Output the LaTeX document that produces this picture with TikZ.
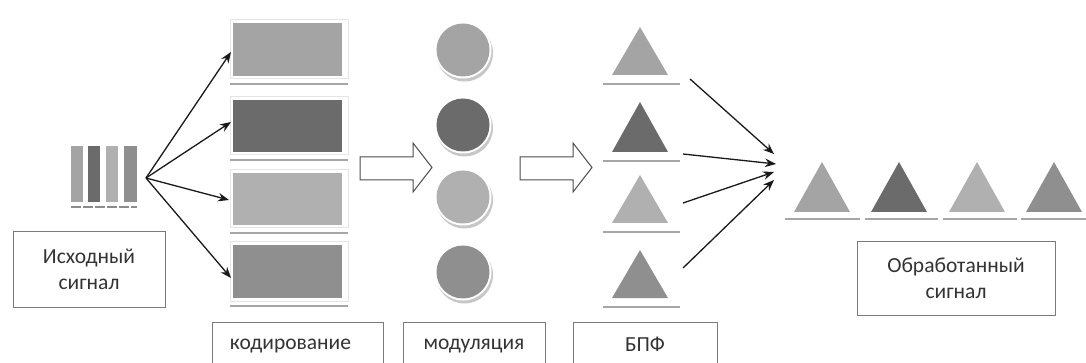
\documentclass[tikz,border=0pt]{standalone}
\usepackage{fontspec}
\setmainfont{Carlito}
\usetikzlibrary{arrows.meta}
\definecolor{cA}{HTML}{A4A4A4}
\definecolor{cB}{HTML}{6B6B6B}
\definecolor{cC}{HTML}{B0B0B0}
\definecolor{cD}{HTML}{8F8F8F}
\definecolor{bar}{HTML}{A6A6A6}
\definecolor{edge}{HTML}{7A7A7A}
\definecolor{txt}{HTML}{333333}
\begin{document}
\begin{tikzpicture}[x=1pt,y=-1pt,
  lbl/.style={draw=edge,line width=1pt,fill=white,text=txt,align=center,
    font=\fontsize{21.5}{26}\selectfont,inner sep=0pt},
  tfont/.style={text=txt,font=\fontsize{21.5}{26}\selectfont},
  conn/.style={line width=1.3pt,draw=black!90,-{Stealth[length=11pt,width=8.5pt]}},
  hollow/.style={draw=black!70,line width=1pt,fill=white,line join=miter},
  bbar/.style={draw=bar,line width=2.6pt}]
\useasboundingbox (0,0) rectangle (1086,363);
\clip (0,0) rectangle (1086,363);
% --- source signal
\fill[cA] (71,146) rectangle (83,202);
\fill[cB] (88,146) rectangle (100,202);
\fill[cC] (106,146) rectangle (118,202);
\fill[cD] (124,146) rectangle (137,202);
\draw[draw=black!45,line width=1.4pt,dash pattern=on 10pt off 2pt] (71,207) -- (137,207);
\coordinate (sig) at (146,178);
\node[lbl,minimum width=152pt,minimum height=75pt] (src) at (89,269.5) {Исходный\\сигнал};
% --- coding rectangles
\foreach \i/\c/\t/\b in {1/cA/23/76,2/cB/100/152,3/cC/173/225,4/cD/245/298}{
  \draw[draw=black!10,line width=1pt] (230,\t-3) rectangle (348,\b+3);
  \node[fill=\c,minimum width=109pt,minimum height=\b pt-\t pt,inner sep=0pt] (r\i) at (287.5,{(\t+\b)/2}) {};
  \draw[bbar] (230,\b+8) -- (348,\b+8);
}
\coordinate (e1) at (231,52);
\coordinate (e2) at (231,122);
\coordinate (e3) at (229,200);
\coordinate (e4) at (231,278);
\foreach \i in {1,...,4}{\draw[conn] (sig) -- (e\i);}
\node[lbl,minimum width=171pt,minimum height=70pt] (cod) at (297.5,357) {};
\node[tfont] at (290.5,346) {кодирование};
% --- hollow arrow 1
\draw[hollow] (360,157) -- (413,157) -- (413,143) -- (432,167.5) -- (413,192) -- (413,180) -- (360,180) -- cycle;
% --- modulation circles
\foreach \i/\c/\y in {1/cA/50,2/cB/125,3/cC/197,4/cD/272}{
  \fill[black!22] (464.5,\y+3) circle (28.5pt);
  \fill[white] (463,\y) circle (28.5pt);
  \node[circle,fill=\c,minimum size=53pt,inner sep=0pt] (m\i) at (463,\y) {};
}
\node[lbl,minimum width=142pt,minimum height=70pt] (mod) at (474,357) {};
\node[tfont] at (474,346) {модуляция};
% --- hollow arrow 2
\draw[hollow] (520,157) -- (573,157) -- (573,143) -- (592,167.5) -- (573,192) -- (573,180) -- (520,180) -- cycle;
% --- FFT triangles
\foreach \i/\c/\t/\b in {1/cA/27/75,2/cB/102/152,3/cC/175/223,4/cD/250/298}{
  \fill[\c] (640,\t) -- (668,\b) -- (612,\b) -- cycle;
  \draw[bbar] (603,\b+9) -- (680,\b+9);
}
\node[lbl,minimum width=144pt,minimum height=70pt] (fft) at (645,357) {};
\node[tfont] at (645,344) {БПФ};
\coordinate (s1) at (690,79);
\coordinate (s2) at (683,154);
\coordinate (s3) at (683,203);
\coordinate (s4) at (683,268);
\coordinate (t1) at (774,154);
\coordinate (t2) at (776,164);
\coordinate (t3) at (774,172);
\coordinate (t4) at (774,180);
\foreach \i in {1,...,4}{\draw[conn] (s\i) -- (t\i);}
% --- output triangles
\foreach \x/\c in {822/cA,899/cB,977/cC,1054/cD}{
  \fill[\c] (\x,162) -- (\x+28,212) -- (\x-28,212) -- cycle;
}
\draw[bbar] (785,219) -- (860,219);
\draw[bbar] (865,219) -- (938,219);
\draw[bbar] (943,219) -- (1017,219);
\draw[bbar] (1021,219) -- (1086,219);
\node[lbl,minimum width=198pt,minimum height=73pt] (out) at (956,278.5) {Обработанный\\сигнал};
\end{tikzpicture}
\end{document}
